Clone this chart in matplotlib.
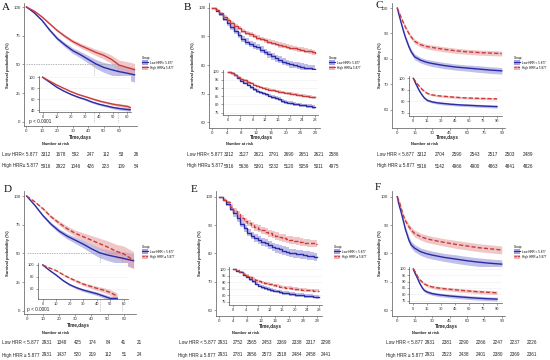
import numpy as np
import matplotlib
matplotlib.use("Agg")
import matplotlib.pyplot as plt
from matplotlib.patches import Patch
from matplotlib.lines import Line2D

plt.rcParams['font.family'] = ['Liberation Sans', 'DejaVu Sans']

W, H = 550, 360
BLUE = "#2B2BA3"
RED = "#CC3B3B"
BLUE_BAND = "#8C8CD8"
RED_BAND = "#E6A3A3"

# ---------------- data ----------------
# panel A (all patients, 0-70 days)
a_days = [0, 5, 10, 15, 20, 25, 30, 35, 40, 45, 50, 55, 60, 65, 70]
a_low = [100, 95, 88.5, 80, 72.5, 67, 62, 58.5, 54.5, 50.5, 47.5, 45.5, 43.8, 42.5, 41]
a_high = [100, 96.5, 91.5, 85.5, 79.5, 74.5, 70, 66.5, 63.5, 60.5, 58, 54.5, 49.5, 47.5, 45.5]
a_low_ci = [0, 0.6, 1.0, 1.3, 1.6, 2.0, 2.4, 2.8, 3.3, 3.8, 4.3, 4.8, 5.3, 5.8, 6.3]
a_high_ci = [0, 0.4, 0.7, 0.9, 1.1, 1.4, 1.7, 2.0, 2.4, 2.8, 3.2, 3.7, 4.3, 5.0, 5.5]
a_in_days = [0, 5, 10, 15, 20, 25, 30, 35, 40, 45, 50, 55, 60, 62]
a_in_low = [100, 91, 82, 75, 69, 64, 60, 55, 51, 48, 45, 43, 41.5, 41]
a_in_high = [100, 93, 86, 80, 74, 69, 65, 61, 57, 54, 51, 49, 47, 45]
a_in_low_ci = [0, 0.5, 0.8, 1.0, 1.2, 1.4, 1.6, 1.8, 2.0, 2.2, 2.4, 2.6, 2.8, 2.8]
a_in_high_ci = [0, 0.4, 0.6, 0.8, 1.0, 1.2, 1.4, 1.6, 1.8, 2.0, 2.4, 2.8, 3.2, 3.4]
a_medians = [44, 59]

# panel B (0-28 days)
b_days = list(range(29))
b_low = [100, 99, 97.8, 96.3, 94.6, 93.3, 92, 90.5, 89.2, 88.2, 87.4, 86.8, 86.2, 85.4, 84.6,
         83.8, 83.1, 82.4, 81.8, 81.2, 80.7, 80.3, 80.0, 79.7, 79.4, 79.1, 78.9, 78.7, 78.5]
b_high = [100, 99.2, 98.2, 97, 95.8, 94.8, 93.8, 92.9, 92.0, 91.3, 90.7, 90.1, 89.6, 89.1, 88.6,
          88.2, 87.8, 87.4, 87.0, 86.7, 86.4, 86.1, 85.8, 85.5, 85.3, 85.0, 84.8, 84.5, 84.3]
b_low_ci = [0, 0.4, 0.6, 0.7, 0.8, 0.9, 1.0, 1.0, 1.0, 1.1, 1.1, 1.1, 1.1, 1.1, 1.1,
            1.2, 1.2, 1.2, 1.2, 1.2, 1.2, 1.2, 1.2, 1.2, 1.2, 1.2, 1.2, 1.2, 1.2]
b_high_ci = [0, 0.3, 0.4, 0.5, 0.6, 0.6, 0.7, 0.7, 0.7, 0.8, 0.8, 0.8, 0.8, 0.8, 0.8,
             0.8, 0.9, 0.9, 0.9, 0.9, 0.9, 0.9, 0.9, 0.9, 0.9, 0.9, 0.9, 0.9, 0.9]

# panel C (0-90 days)
c_days = [0, 1, 2, 3, 5, 7, 10, 12, 15, 20, 25, 30, 40, 50, 60, 70, 80, 90]
c_low = [100, 98.3, 96.5, 94.8, 91.5, 88.5, 84.8, 82.8, 80.8, 79.5, 78.7, 78.2, 77.4, 76.8, 76.4, 76.0, 75.6, 75.3]
c_high = [100, 98.9, 97.8, 96.7, 94.5, 92.5, 90.0, 88.6, 86.9, 85.6, 84.9, 84.5, 83.8, 83.2, 82.8, 82.5, 82.3, 82.1]
c_low_ci = [0, 0.3, 0.5, 0.6, 0.8, 0.9, 1.0, 1.0, 1.1, 1.1, 1.1, 1.2, 1.2, 1.2, 1.2, 1.3, 1.3, 1.3]
c_high_ci = [0, 0.3, 0.4, 0.5, 0.6, 0.7, 0.8, 0.8, 0.9, 0.9, 0.9, 1.0, 1.0, 1.0, 1.0, 1.0, 1.0, 1.0]

# panel D (matched, 0-66 days)
d_days = [0, 5, 10, 15, 20, 25, 30, 35, 40, 45, 50, 55, 60, 66]
d_low = [100, 92, 83, 75.5, 69.5, 65, 61.5, 58, 54, 50.5, 48.5, 47, 45.5, 43.5]
d_high = [100, 95, 89, 82, 76.5, 71.5, 67.5, 64.5, 61.5, 58.5, 55.5, 52, 49.5, 44]
d_low_ci = [0, 0.8, 1.2, 1.6, 2.0, 2.4, 2.8, 3.3, 3.8, 4.3, 4.8, 5.3, 5.8, 6.5]
d_high_ci = [0, 0.6, 1.0, 1.4, 1.8, 2.3, 2.8, 3.4, 4.0, 4.7, 5.4, 6.0, 6.8, 7.5]
d_in_days = [0, 5, 10, 15, 20, 25, 30, 35, 40, 45, 50, 55]
d_in_low = [100, 91, 83, 74, 67, 62, 58, 55, 52, 48, 44, 44]
d_in_high = [100, 95, 90.5, 84, 78, 73, 68, 64.5, 61, 58, 54, 48]
d_in_low_ci = [0, 0.8, 1.2, 1.5, 1.8, 2.1, 2.4, 2.7, 3.0, 3.4, 3.8, 3.8]
d_in_high_ci = [0, 0.6, 1.0, 1.4, 1.8, 2.2, 2.6, 3.0, 3.5, 4.0, 4.6, 5.2]
d_medians = [45, 59]

# panel E (matched, 0-28 days)
e_days = list(range(29))
e_low = [100, 98.8, 97.5, 95.8, 94.1, 92.3, 90.5, 88.8, 87.3, 86.3, 85.4, 84.7, 84.1, 83.5, 82.9,
         82.3, 81.8, 81.4, 81.0, 80.6, 80.2, 80.0, 79.8, 79.6, 79.4, 79.2, 79.0, 78.8, 78.6]
e_high = [100, 99.0, 98.0, 96.5, 95.0, 93.8, 92.6, 91.5, 90.6, 89.9, 89.2, 88.7, 88.2, 87.7, 87.1,
          86.6, 86.1, 85.7, 85.4, 85.0, 84.7, 84.5, 84.3, 84.0, 83.8, 83.7, 83.5, 83.4, 83.3]
e_low_ci = [0, 0.5, 0.8, 1.0, 1.1, 1.2, 1.2, 1.3, 1.3, 1.3, 1.4, 1.4, 1.4, 1.4, 1.4,
            1.5, 1.5, 1.5, 1.5, 1.5, 1.5, 1.5, 1.5, 1.5, 1.5, 1.5, 1.5, 1.5, 1.5]
e_high_ci = [0, 0.4, 0.6, 0.8, 0.9, 1.0, 1.0, 1.1, 1.1, 1.1, 1.2, 1.2, 1.2, 1.2, 1.2,
             1.3, 1.3, 1.3, 1.3, 1.3, 1.3, 1.3, 1.3, 1.3, 1.3, 1.3, 1.3, 1.3, 1.3]

# panel F (matched, 0-90 days)
f_days = [0, 1, 2, 3, 5, 7, 10, 12, 15, 20, 25, 30, 40, 50, 60, 70, 80, 90]
f_low = [100, 98.0, 96.4, 95.0, 91.8, 88.5, 84.7, 83.0, 81.8, 80.6, 79.9, 79.4, 78.6, 78.0, 77.4, 76.9, 76.5, 76.2]
f_high = [100, 99.0, 97.8, 96.5, 93.5, 91.5, 89.4, 88.2, 87.0, 85.9, 85.2, 84.7, 83.9, 83.2, 82.6, 82.0, 81.6, 81.2]
f_low_ci = [0, 0.4, 0.6, 0.7, 0.9, 1.0, 1.2, 1.2, 1.3, 1.3, 1.4, 1.4, 1.4, 1.5, 1.5, 1.5, 1.5, 1.5]
f_high_ci = [0, 0.3, 0.5, 0.6, 0.8, 0.9, 1.0, 1.1, 1.2, 1.2, 1.3, 1.3, 1.3, 1.4, 1.4, 1.4, 1.4, 1.4]

# number at risk
a_risk_t = [0, 10, 20, 30, 40, 50, 60]
a_risk_low = [3312, 1678, 592, 247, 112, 53, 26]
a_risk_high = [5916, 2922, 1046, 426, 223, 109, 54]
b_risk_t = [0, 4, 8, 12, 16, 20, 24, 28]
b_risk_low = [3312, 3127, 2621, 2791, 2690, 2651, 2621, 2586]
b_risk_high = [5916, 5636, 5391, 5232, 5120, 5059, 5011, 4975]
c_risk_t = [0, 15, 30, 45, 60, 75, 90]
c_risk_low = [3312, 2704, 2590, 2543, 2517, 2503, 2489]
c_risk_high = [5916, 5142, 4966, 4900, 4863, 4841, 4826]
d_risk_t = [0, 10, 20, 30, 40, 50, 60]
d_risk_low = [2931, 1348, 425, 174, 84, 41, 21]
d_risk_high = [2931, 1437, 520, 219, 112, 51, 24]
e_risk_t = [0, 4, 8, 12, 16, 20, 24, 28]
e_risk_low = [2931, 2752, 2565, 2453, 2369, 2338, 2317, 2298]
e_risk_high = [2931, 2781, 2656, 2573, 2518, 2484, 2458, 2441]
f_risk_t = [0, 15, 30, 45, 60, 75, 90]
f_risk_low = [2931, 2381, 2290, 2266, 2247, 2237, 2226]
f_risk_high = [2931, 2523, 2438, 2401, 2380, 2369, 2361]

LOW1, HIGH1 = 'Low HRR< 5.877', 'High HRR\u2265 5.877'
LOW2, HIGH2 = 'Low HRR < 5.877', 'High HRR \u2265 5.877'
TXT = '#222222'


def px_axes(fig, left, top, right, bottom):
    return fig.add_axes([left / W, 1 - bottom / H, (right - left) / W, (bottom - top) / H])


def style_axes(ax, xlim, ylim, xticks, yticks, fs=3.2):
    ax.set_xlim(*xlim)
    ax.set_ylim(*ylim)
    ax.set_xticks(xticks)
    ax.set_yticks(yticks)
    for s in ['top', 'right']:
        ax.spines[s].set_visible(False)
    for s in ['left', 'bottom']:
        ax.spines[s].set_color('#555555')
        ax.spines[s].set_linewidth(0.5)
    ax.tick_params(length=1.5, width=0.4, colors='#555555', labelsize=fs, pad=1)
    for lab in ax.get_xticklabels() + ax.get_yticklabels():
        lab.set_color('#333333')
    ax.set_facecolor('white')


def inset_style(ax):
    ax.yaxis.grid(True, color='#eeeeee', lw=0.4)
    ax.set_axisbelow(True)


def curves(ax, days, low, high, low_ci, high_ci, red_dash, step):
    days = np.array(days)
    low, high = np.array(low), np.array(high)
    low_ci, high_ci = np.array(low_ci), np.array(high_ci)
    kw = dict(step='post') if step else {}
    ds = 'steps-post' if step else 'default'
    ax.fill_between(days, low - low_ci, low + low_ci, color=BLUE_BAND, alpha=0.55, lw=0, **kw)
    ax.fill_between(days, high - high_ci, high + high_ci, color=RED_BAND, alpha=0.6, lw=0, **kw)
    ax.plot(days, low, color=BLUE, lw=1.0, drawstyle=ds)
    ax.plot(days, high, color=RED, lw=1.0, drawstyle=ds,
            linestyle=(0, (3, 1.5)) if red_dash else '-')


def legend(ax, fig, x, y, lab_low, lab_high, red_dash):
    h1 = (Patch(facecolor=BLUE_BAND, alpha=0.8), Line2D([], [], color=BLUE, lw=0.8))
    h2 = (Patch(facecolor=RED_BAND, alpha=0.8),
          Line2D([], [], color=RED, lw=0.8, linestyle=(0, (2, 1)) if red_dash else '-'))
    ax.legend([h1, h2], [lab_low, lab_high], loc='upper left',
              bbox_to_anchor=(x / W, 1 - y / H), bbox_transform=fig.transFigure,
              frameon=False, fontsize=2.2, title='Group', title_fontsize=2.2,
              alignment='left', handlelength=2.2, handleheight=1.8,
              labelspacing=0.3, handletextpad=0.5, borderpad=0)


def risk_table(fig, left, right, row_y, tmax, times, low, high, lab_x, lab_low, lab_high,
               title_x, lab_ha='left'):
    axt = px_axes(fig, left, row_y - 6, right, row_y + 18)
    axt.set_xlim(0, tmax)
    axt.set_ylim(0, 2)
    axt.axis('off')
    for t, v in zip(times, low):
        axt.text(t, 1.5, str(v), ha='center', va='center', fontsize=3.3, color=TXT)
    for t, v in zip(times, high):
        axt.text(t, 0.5, str(v), ha='center', va='center', fontsize=3.3, color=TXT)
    fig.text(lab_x / W, 1 - row_y / H, lab_low, ha=lab_ha, va='center', fontsize=3.3, color=TXT)
    fig.text(lab_x / W, 1 - (row_y + 12) / H, lab_high, ha=lab_ha, va='center', fontsize=3.3, color=TXT)
    fig.text(title_x / W, 1 - (row_y - 10) / H, 'Number at risk', ha='center', va='center',
             fontsize=2.8, fontweight='bold', color=TXT)


def medians(ax, meds):
    ax.plot([0, max(meds)], [50, 50], color='#999999', lw=0.5, linestyle=(0, (2, 1.5)))
    for m in meds:
        ax.plot([m, m], [0, 50], color='#999999', lw=0.5, linestyle=(0, (1, 1.5)))


fig = plt.figure(figsize=(W / 100, H / 100), dpi=100)

# ---------- row 1 ----------
# A
ax = px_axes(fig, 24, 3, 137, 126)
medians(ax, a_medians)
curves(ax, a_days, a_low, a_high, a_low_ci, a_high_ci, False, False)
style_axes(ax, (-1.6, 71.6), (-3.5, 103.5), [0, 10, 20, 30, 40, 50, 60], [0, 25, 50, 75, 100])
legend(ax, fig, 140, 54, LOW1, HIGH1, False)
ins = px_axes(fig, 39, 76, 131, 112)
curves(ins, a_in_days, a_in_low, a_in_high, a_in_low_ci, a_in_high_ci, False, False)
style_axes(ins, (-2.6, 62.6), (36.9, 102.4), [0, 10, 20, 30, 40, 50, 60], [40, 60, 80, 100], fs=2.9)
inset_style(ins)
fig.text(29 / W, 1 - 121.5 / H, 'p < 0.0001', fontsize=3.4, va='center', ha='left', color=TXT)
risk_table(fig, 46, 136, 154, 60, a_risk_t, a_risk_low, a_risk_high, 2, LOW1, HIGH1, 56)

# B
ax = px_axes(fig, 209.3, 3, 320, 128)
curves(ax, b_days, b_low, b_high, b_low_ci, b_high_ci, False, True)
style_axes(ax, (-0.73, 29.3), (57.9, 101.75), [0, 4, 8, 12, 16, 20, 24, 28], [60, 70, 80, 90, 100])
legend(ax, fig, 327, 54, LOW1, HIGH1, False)
ins = px_axes(fig, 223, 70, 318, 115)
curves(ins, b_days, b_low, b_high, b_low_ci, b_high_ci, False, True)
style_axes(ins, (-1.6, 29.0), (73.6, 101), [0, 4, 8, 12, 16, 20, 24, 28], [75, 80, 85, 90, 95, 100], fs=2.9)
inset_style(ins)
risk_table(fig, 229, 334, 154, 28, b_risk_t, b_risk_low, b_risk_high, 187, LOW1, HIGH1, 240)

# C
ax = px_axes(fig, 391.7, 3, 505, 128)
curves(ax, c_days, c_low, c_high, c_low_ci, c_high_ci, True, False)
style_axes(ax, (-4.8, 92.8), (52.8, 102), [0, 15, 30, 45, 60, 75, 90], [60, 70, 80, 90, 100])
legend(ax, fig, 512, 54, LOW2, HIGH2, True)
ins = px_axes(fig, 409, 76, 502, 116)
curves(ins, c_days, c_low, c_high, c_low_ci, c_high_ci, True, False)
style_axes(ins, (-4.6, 95.4), (67.1, 102), [0, 15, 30, 45, 60, 75, 90], [70, 80, 90, 100], fs=2.9)
inset_style(ins)
risk_table(fig, 422, 528, 154, 90, c_risk_t, c_risk_low, c_risk_high, 377, LOW2, HIGH2, 425)

# ---------- row 2 ----------
# D
ax = px_axes(fig, 24, 191, 136, 314)
medians(ax, d_medians)
curves(ax, d_days, d_low, d_high, d_low_ci, d_high_ci, True, False)
style_axes(ax, (-1.65, 67.5), (-2.9, 104.4), [0, 10, 20, 30, 40, 50, 60], [0, 25, 50, 75, 100])
legend(ax, fig, 140, 243, LOW2, HIGH2, True)
ins = px_axes(fig, 38, 263, 128, 298.5)
curves(ins, d_in_days, d_in_low, d_in_high, d_in_low_ci, d_in_high_ci, True, False)
style_axes(ins, (-3.5, 63), (44, 103.3), [0, 10, 20, 30, 40, 50, 60], [60, 80, 100], fs=2.9)
inset_style(ins)
fig.text(27 / W, 1 - 310 / H, 'p < 0.0001', fontsize=3.4, va='center', ha='left', color=TXT)
risk_table(fig, 46.7, 139.3, 343, 60, d_risk_t, d_risk_low, d_risk_high, 2, LOW2, HIGH2, 56)

# E
ax = px_axes(fig, 216, 191, 321.7, 316)
curves(ax, e_days, e_low, e_high, e_low_ci, e_high_ci, True, True)
style_axes(ax, (-0.94, 29.3), (57.9, 102), [0, 4, 8, 12, 16, 20, 24, 28], [60, 70, 80, 90, 100])
legend(ax, fig, 332, 243, LOW2, HIGH2, True)
ins = px_axes(fig, 229.3, 266.7, 321.7, 305)
curves(ins, e_days, e_low, e_high, e_low_ci, e_high_ci, True, True)
style_axes(ins, (-1.3, 28.8), (72.5, 101.8), [0, 4, 8, 12, 16, 20, 24, 28], [75, 80, 85, 90, 95, 100], fs=2.9)
inset_style(ins)
risk_table(fig, 223, 326, 343, 28, e_risk_t, e_risk_low, e_risk_high, 216, LOW2, HIGH2, 246,
           lab_ha='right')

# F
ax = px_axes(fig, 391.7, 191, 505, 316)
curves(ax, f_days, f_low, f_high, f_low_ci, f_high_ci, True, False)
style_axes(ax, (-4.8, 92.8), (57.9, 102), [0, 15, 30, 45, 60, 75, 90], [60, 70, 80, 90, 100])
legend(ax, fig, 512, 243, LOW2, HIGH2, True)
ins = px_axes(fig, 409.3, 266.7, 501.7, 303.3)
curves(ins, f_days, f_low, f_high, f_low_ci, f_high_ci, True, False)
style_axes(ins, (-4.3, 95), (72.9, 101.8), [0, 15, 30, 45, 60, 75, 90], [75, 80, 85, 90, 95, 100], fs=2.9)
inset_style(ins)
risk_table(fig, 430, 532, 343, 90, f_risk_t, f_risk_low, f_risk_high, 386, LOW2, HIGH2, 426)

# axis titles and panel letters
for x, y in [(8, 65), (193, 65), (380, 65), (8, 253), (200, 253), (380, 253)]:
    fig.text(x / W, 1 - y / H, 'Survival probability (%)', rotation=90, ha='center', va='center',
             fontsize=3.0, fontweight='bold', color=TXT)
for x, y in [(80, 137.5), (261, 138), (447, 138), (78, 326), (270, 326.5), (446, 326.5)]:
    fig.text(x / W, 1 - y / H, 'Time,days', ha='center', va='center',
             fontsize=3.3, fontweight='bold', color=TXT)
for lab, x, y in [('A', 2, 8), ('B', 184, 7), ('C', 375, 6), ('D', 4, 190), ('E', 191, 189), ('F', 375, 187)]:
    fig.text(x / W, 1 - y / H, lab, ha='left', va='center', fontsize=8,
             family=['Liberation Serif', 'DejaVu Serif'], color='#111111')

fig.savefig('out.png', dpi=100)
